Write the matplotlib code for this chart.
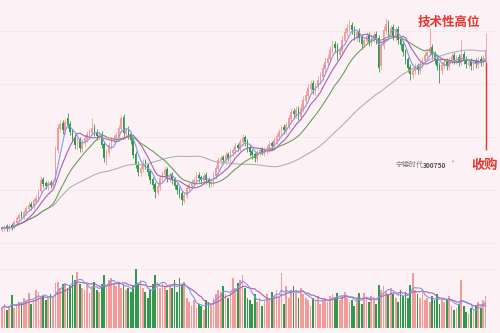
import numpy as np
import pandas as pd
import matplotlib
matplotlib.use("Agg")
import matplotlib.pyplot as plt

# Daily candles (price in chart units)
open_ = [20, 21, 24, 21, 25, 22, 27, 31, 37, 33,
         37, 41, 46, 43, 48, 51, 59, 71, 67, 63,
         68, 64, 70, 100, 121, 127, 119, 132, 126, 119,
         113, 104, 111, 101, 107, 111, 115, 117, 123, 118,
         112, 116, 106, 88, 97, 104, 111, 111, 114, 121,
         133, 116, 121, 115, 111, 96, 86, 77, 81, 88,
         85, 79, 71, 66, 57, 63, 71, 75, 81, 71,
         76, 71, 65, 61, 57, 49, 54, 61, 64, 67,
         69, 75, 73, 69, 75, 71, 66, 67, 74, 81,
         89, 93, 89, 96, 91, 97, 99, 105, 101, 107,
         113, 109, 103, 99, 96, 91, 97, 101, 97, 99,
         101, 107, 103, 109, 113, 117, 123, 119, 124, 131,
         139, 135, 141, 133, 141, 149, 154, 161, 167, 159,
         163, 169, 173, 181, 187, 191, 199, 206, 204, 195,
         199, 209, 217, 221, 225, 221, 213, 219, 213, 205,
         209, 215, 207, 211, 216, 212, 184, 204, 219, 227,
         217, 223, 213, 221, 211, 206, 199, 191, 183, 175,
         179, 185, 179, 185, 189, 194, 197, 203, 196, 191,
         185, 179, 184, 189, 183, 189, 195, 189, 193, 187,
         196, 191, 185, 189, 183, 189, 185, 191, 187, 191]
close = [22, 23, 21, 24, 22, 28, 32, 35, 34, 38,
         42, 45, 43, 50, 52, 58, 70, 66, 64, 67,
         65, 68, 100, 122, 126, 120, 128, 125, 118, 112,
         105, 110, 102, 108, 112, 116, 118, 122, 117, 114,
         115, 105, 92, 98, 105, 110, 112, 115, 122, 132,
         117, 120, 114, 110, 95, 85, 78, 82, 87, 84,
         78, 70, 65, 58, 64, 72, 76, 80, 72, 75,
         70, 64, 60, 56, 50, 55, 62, 65, 68, 70,
         74, 72, 70, 74, 70, 67, 68, 75, 82, 90,
         92, 90, 95, 92, 98, 100, 104, 102, 108, 112,
         108, 102, 98, 95, 92, 98, 100, 98, 100, 102,
         106, 104, 110, 114, 118, 122, 120, 125, 132, 138,
         136, 140, 134, 142, 150, 155, 162, 166, 160, 164,
         170, 174, 182, 188, 192, 200, 205, 202, 196, 200,
         210, 218, 222, 224, 220, 214, 218, 212, 206, 210,
         214, 208, 212, 215, 210, 182, 205, 220, 226, 218,
         222, 214, 220, 210, 205, 198, 190, 182, 176, 180,
         184, 180, 186, 190, 195, 198, 202, 195, 190, 184,
         180, 185, 188, 184, 190, 194, 190, 192, 188, 195,
         190, 186, 188, 184, 188, 186, 190, 188, 192, 200]
high = [24, 25, 26, 26, 27, 30, 34, 37, 39, 40,
        44, 48, 48, 52, 55, 61, 74, 73, 69, 70,
        70, 71, 104, 126, 130, 130, 131, 137, 129, 121,
        116, 113, 113, 111, 115, 119, 121, 132, 126, 121,
        118, 119, 108, 101, 108, 113, 115, 118, 125, 135,
        136, 123, 124, 118, 113, 99, 89, 85, 91, 91,
        87, 81, 73, 68, 67, 75, 79, 84, 83, 78,
        78, 73, 67, 63, 59, 58, 65, 68, 71, 73,
        78, 78, 75, 77, 78, 73, 71, 78, 85, 93,
        95, 95, 98, 98, 101, 103, 107, 107, 111, 116,
        115, 111, 105, 101, 98, 101, 103, 103, 103, 105,
        109, 109, 113, 117, 121, 125, 126, 128, 135, 142,
        142, 144, 144, 146, 154, 159, 166, 170, 170, 167,
        174, 178, 186, 192, 196, 204, 210, 209, 207, 204,
        214, 222, 226, 230, 228, 224, 221, 222, 216, 213,
        218, 218, 215, 219, 219, 215, 208, 224, 232, 230,
        225, 226, 223, 224, 214, 209, 201, 193, 186, 183,
        187, 187, 189, 193, 198, 201, 222, 206, 199, 193,
        188, 188, 191, 192, 193, 197, 198, 195, 196, 210,
        199, 194, 191, 192, 191, 192, 193, 194, 195, 217]
low = [18, 19, 19, 19, 20, 21, 25, 29, 32, 31,
       35, 39, 40, 41, 46, 49, 57, 63, 61, 60,
       62, 61, 67, 97, 118, 116, 116, 122, 115, 108,
       101, 101, 98, 98, 104, 108, 113, 115, 114, 110,
       110, 102, 88, 85, 94, 101, 108, 108, 111, 118,
       113, 113, 111, 106, 92, 82, 74, 74, 78, 81,
       74, 66, 61, 52, 55, 60, 68, 72, 68, 68,
       66, 61, 56, 52, 45, 47, 51, 59, 61, 64,
       66, 68, 67, 66, 66, 63, 63, 64, 71, 79,
       86, 86, 86, 89, 88, 94, 96, 99, 99, 104,
       104, 98, 94, 91, 88, 88, 94, 95, 94, 96,
       98, 100, 100, 106, 110, 114, 116, 116, 121, 128,
       132, 132, 130, 130, 138, 146, 151, 158, 156, 155,
       160, 166, 170, 178, 184, 188, 196, 198, 190, 192,
       196, 206, 214, 218, 216, 210, 209, 208, 201, 202,
       206, 204, 204, 208, 206, 178, 180, 201, 216, 214,
       214, 210, 209, 206, 200, 194, 186, 178, 170, 172,
       176, 176, 176, 182, 186, 191, 194, 191, 186, 180,
       167, 176, 181, 180, 180, 186, 186, 186, 184, 185,
       186, 182, 182, 180, 180, 182, 182, 184, 184, 188]
volume = [20, 24, 18, 22, 33, 20, 22, 26, 25, 30,
          28, 35, 24, 28, 38, 36, 30, 32, 28, 30,
          34, 30, 45, 46, 40, 44, 45, 40, 42, 53,
          48, 56, 44, 40, 38, 44, 35, 42, 46, 38,
          36, 44, 53, 42, 48, 50, 44, 42, 46, 40,
          44, 38, 40, 36, 42, 59, 45, 48, 40, 36,
          30, 38, 44, 53, 46, 40, 46, 42, 38, 44,
          40, 48, 36, 50, 44, 46, 30, 26, 22, 28,
          20, 24, 22, 18, 28, 26, 24, 30, 34, 38,
          36, 42, 34, 30, 36, 50, 40, 45, 48, 53,
          40, 30, 28, 24, 34, 26, 30, 22, 28, 34,
          30, 36, 32, 38, 30, 55, 24, 42, 30, 38,
          42, 36, 30, 40, 34, 30, 28, 22, 30, 26,
          32, 24, 28, 30, 26, 32, 34, 30, 35, 28,
          33, 36, 30, 26, 28, 22, 30, 35, 24, 35,
          30, 26, 32, 28, 24, 43, 38, 42, 36, 34,
          40, 34, 30, 26, 38, 32, 36, 30, 43, 55,
          38, 34, 30, 36, 28, 30, 26, 32, 28, 34,
          24, 30, 26, 28, 32, 22, 18, 20, 24, 48,
          22, 16, 14, 20, 18, 22, 26, 20, 28, 32]

stock_name = "宁德时代"
stock_code = "300750"
note_top = "技术性高位"
note_right = "收购"

BG = "#fcf1f5"
UP = "#f39a9a"
DOWN = "#2f9a4c"
GRID = "#f8e8ee"
MA_COLORS = {5: "#7f9be3", 10: "#ae5fb0", 20: "#6e9e5e", 60: "#b4b0b2"}
CJK = ["Noto Sans CJK SC", "DejaVu Sans"]

o = np.array(open_, float)
c = np.array(close, float)
h = np.array(high, float)
l = np.array(low, float)
v = np.array(volume, float)
idx = np.arange(len(c))
up = c >= o
colors = np.where(up, UP, DOWN)

W, H = 500, 333
fig = plt.figure(figsize=(5, 3.33), dpi=100, facecolor=BG)

# price panel: top of the figure down to y=248px
ax = fig.add_axes([0, 1 - 248 / H, 1, 248 / H], facecolor=BG)
# volume panel: y=262px .. 328px
axv = fig.add_axes([0, (H - 328) / H, 1, 66 / H], facecolor=BG)

xlim = (-2 / 2.43, (W - 2) / 2.43)
for a in (ax, axv):
    a.set_xlim(*xlim)
    for s in a.spines.values():
        s.set_visible(False)
    a.set_xticks([])
    a.set_yticks([])
ax.set_ylim(2, 250)
axv.set_ylim(0, 66)

# faint horizontal grid
for ypx in (31, 84, 137, 190, 243):
    ax.axhline(250 - ypx, xmax=495 / W, color=GRID, lw=0.7, zorder=0)
axv.axhline(328 - 269, xmax=495 / W, color=GRID, lw=0.7, zorder=0)

# candles
ax.vlines(idx, l, h, colors=colors, lw=0.6, zorder=2)
body = np.maximum(np.abs(c - o), 0.8)
ax.bar(idx, body, bottom=np.minimum(o, c), width=0.68, color=colors,
       linewidth=0, zorder=3)

# moving averages of the close
cs = pd.Series(c)
for n, col in [(60, MA_COLORS[60]), (20, MA_COLORS[20]),
               (10, MA_COLORS[10]), (5, MA_COLORS[5])]:
    ax.plot(idx, cs.rolling(n, min_periods=1).mean(), color=col, lw=0.8, zorder=4)

# volume bars and their averages
axv.bar(idx, v, width=0.72, color=colors, linewidth=0, zorder=2)
vs = pd.Series(v)
axv.plot(idx, vs.rolling(10, min_periods=1).mean(), color=MA_COLORS[10], lw=0.8, zorder=3)
axv.plot(idx, vs.rolling(5, min_periods=1).mean(), color=MA_COLORS[5], lw=0.8, zorder=3)

# annotations
last = idx[-1]
ax.vlines(last, 100, l[-1], colors="#e8342c", lw=1.0, zorder=5)
fig.text(449 / W, 1 - 22 / H, note_top, color="#e8342c", fontsize=9,
         fontweight="bold", family=CJK, ha="center", va="center")
fig.text(485 / W, 1 - 165 / H, note_right, color="#e8342c", fontsize=9.5,
         fontweight="bold", family=CJK, ha="center", va="center")
fig.text(395 / W, 1 - 165 / H, stock_name, color="#777777", fontsize=5,
         family=CJK, ha="left", va="center")
fig.text(423 / W, 1 - 165 / H, stock_code, color="#555555", fontsize=4.8,
         fontweight="bold", family=CJK, ha="left", va="center")
fig.text(452 / W, 1 - 164 / H, "®", color="#e8342c", fontsize=3.5,
         family=CJK, ha="left", va="center")

fig.savefig("out.png", dpi=100, facecolor=BG)
